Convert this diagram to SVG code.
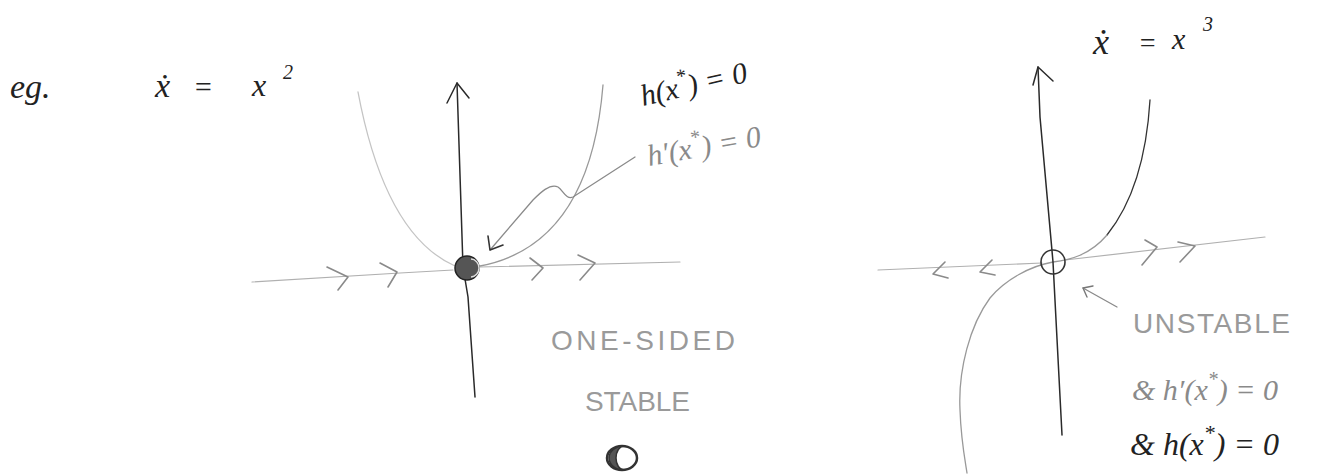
<svg xmlns="http://www.w3.org/2000/svg" width="1321" height="475" viewBox="0 0 1321 475">
<style>
.math{font-family:"Liberation Serif","DejaVu Serif",serif;font-style:italic;fill:#222}
.mathg{font-family:"Liberation Serif","DejaVu Serif",serif;font-style:italic;fill:#8a8a8a}
.caps{font-family:"Liberation Sans","DejaVu Sans",sans-serif;fill:#9a9a9a;font-size:28px}
.axis{fill:none;stroke:#2a2a2a;stroke-width:1.5;stroke-linecap:round;stroke-linejoin:round}
.haxis{fill:none;stroke:#b0b0b0;stroke-width:1.2;stroke-linecap:round}
.chev{fill:none;stroke:#8a8a8a;stroke-width:1.6;stroke-linecap:round;stroke-linejoin:round}
.curve{fill:none;stroke-width:1.3;stroke-linecap:round}
</style>
<rect width="1321" height="475" fill="#ffffff"/>

<g id="title-left">
<text class="math" x="10" y="98" font-size="34">eg.</text>
<text class="math" x="155" y="97" font-size="34">ẋ</text>
<text class="math" x="193" y="97" font-size="30">=</text>
<text class="math" x="252" y="96" font-size="32">x</text>
<text class="math" x="283" y="79" font-size="20">2</text>
</g>

<g id="plot-left">
<path class="haxis" d="M252 282 L400 273 L453 270 M480 267 L680 262"/>
<path class="curve" stroke="#c4c4c4" d="M358 92 Q385 235 455 266"/>
<path class="curve" stroke="#999" d="M603 85 Q590 245 480 266"/>
<path class="axis" stroke="#555" d="M475 397 L468 297 L463 267 L457 83"/>
<path class="axis" d="M447 103 L457 83 L469 98"/>
<path class="chev" d="M327 267 L348 277 L338 290"/>
<path class="chev" d="M380 263 L397 272 L388 287"/>
<path class="chev" d="M530 258 L543 268 L532 280"/>
<path class="chev" d="M578 255 L595 263 L580 280"/>
<circle cx="467" cy="268" r="12" fill="#555" stroke="#222" stroke-width="1.5"/>
<path d="M471 259 A8 9 0 0 1 471 277" fill="none" stroke="#ddd" stroke-width="1.5"/>
</g>

<g id="label-left">
<g transform="translate(643 106) rotate(-13)">
<text class="math" x="0" y="0" font-size="30" font-style="italic">h(x<tspan font-size="20" dy="-14">*</tspan><tspan dy="14">)  = 0</tspan></text>
</g>
<g transform="translate(649 166) rotate(-10)">
<text class="mathg" x="0" y="0" font-size="30" font-style="italic">h′(x<tspan font-size="20" dy="-14">*</tspan><tspan dy="14">)  = 0</tspan></text>
</g>
<text class="caps" x="551" y="350" textLength="184" lengthAdjust="spacing">ONE-SIDED</text>
<text class="caps" x="585" y="411" textLength="105" lengthAdjust="spacing">STABLE</text>
</g>

<g id="symbol-half">
<ellipse cx="622" cy="458" rx="15" ry="12" fill="#fff" stroke="#333" stroke-width="2.5"/>
<path d="M624 446 A15 12 0 0 0 624 470 A8 12 0 0 1 624 446 Z" fill="#555" stroke="#333" stroke-width="1.5"/>
</g>

<g id="title-right">
<text class="math" x="1093" y="54" font-size="36">ẋ</text>
<text class="math" x="1138" y="52" font-size="28">=</text>
<text class="math" x="1172" y="49" font-size="30">x</text>
<text class="math" x="1203" y="31" font-size="20">3</text>
</g>

<g id="plot-right">
<path class="haxis" d="M878 270 L1042 263 M1065 260 L1265 237"/>
<path class="curve" stroke="#333" d="M1150 100 C1147 150 1135 200 1107 235"/>
<path class="curve" stroke="#999" d="M1107 235 C1090 255 1070 260 1053 262 C1030 266 1005 280 990 298 C970 325 958 370 960 410 C961 440 965 460 967 473"/>
<path class="axis" d="M1062 435 L1053 262 L1040 117 L1038 67"/>
<path class="axis" d="M1033 85 L1038 67 L1053 81"/>
<circle cx="1053" cy="262" r="12" fill="none" stroke="#333" stroke-width="1.6"/>
<path class="chev" d="M945 262 L933 274 L948 278"/>
<path class="chev" d="M992 260 L980 272 L995 275"/>
<path class="chev" d="M1145 240 L1157 247 L1142 265"/>
<path class="chev" d="M1178 242 L1195 246 L1180 262"/>
</g>

<g id="label-right">
<text class="caps" x="1133" y="333" textLength="157" lengthAdjust="spacing">UNSTABLE</text>
<text class="mathg" x="1132" y="400" font-size="30">&amp; h′(x<tspan font-size="20" dy="-14">*</tspan><tspan dy="14">)  = 0</tspan></text>
<text class="math" x="1130" y="455" font-size="32">&amp; h(x<tspan font-size="22" dy="-15">*</tspan><tspan dy="15">)  = 0</tspan></text>
</g>

<g id="connectors">
<path d="M635 157 L573 197 C566 200 563 190 558 187 C550 183 540 193 533 200 L490 250" fill="none" stroke="#8a8a8a" stroke-width="1.3" stroke-linecap="round"/>
<path d="M488 236 L490 250 L503 245" fill="none" stroke="#333" stroke-width="1.6" stroke-linecap="round" stroke-linejoin="round"/>
<path d="M1117 307 L1083 288" fill="none" stroke="#8a8a8a" stroke-width="1.3" stroke-linecap="round"/>
<path d="M1093 286 L1083 288 L1087 297" fill="none" stroke="#777" stroke-width="1.4" stroke-linecap="round" stroke-linejoin="round"/>
</g>
</svg>
